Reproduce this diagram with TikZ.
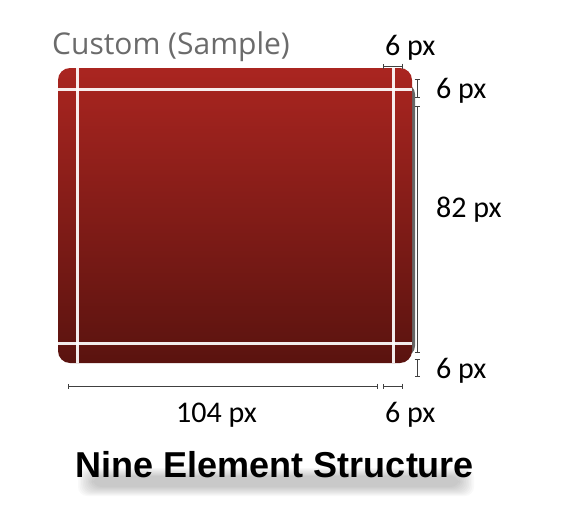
\documentclass[tikz,border=0pt]{standalone}
\usepackage{fontspec}
\setmainfont{Liberation Sans}
\newfontfamily\dimfont{Carlito}
\newfontfamily\capfont{Open Sans}
\usetikzlibrary{arrows.meta}
\definecolor{redtop}{HTML}{AA2520}
\definecolor{redbot}{HTML}{5A130F}
\definecolor{capgrey}{HTML}{6B6B6B}
\begin{document}
\begin{tikzpicture}[x=1pt,y=-1pt,
  dimline/.style={draw=black!75, line width=0.8pt, {Bar[width=5pt]}-{Bar[width=5pt]}},
  dimlabel/.style={font=\dimfont\fontsize{30}{30}\selectfont, text=black, inner sep=0pt, anchor=base west},
  seam/.style={draw=white, line width=3pt, opacity=0.92},
  titlefont/.style={font=\bfseries\fontsize{36}{36}\selectfont, inner sep=0pt, anchor=base}]
\useasboundingbox (0,0) rectangle (579,514);
% panel shadow (right side only)
\fill[black, opacity=0.6, rounded corners=10pt] (61,84) rectangle (415,356);
% panel
\shade[top color=redtop, bottom color=redbot, rounded corners=12pt] (58,68) rectangle (412,363);
% seams
\draw[seam] (58,89) -- (412,89);
\draw[seam] (58,343) -- (412,343);
\draw[seam] (77.5,68) -- (77.5,363);
\draw[seam] (393,68) -- (393,363);
% caption
\node[font=\capfont\fontsize{30}{30}\selectfont, text=capgrey, inner sep=0pt, anchor=base west] (cap) at (52,54) {Custom (Sample)};
% dimension lines
\coordinate (t1) at (383,66); \coordinate (t2) at (403,66);
\coordinate (r1) at (417,79); \coordinate (r2) at (417,98);
\coordinate (r3) at (417,106); \coordinate (r4) at (417,353);
\coordinate (r5) at (417,359); \coordinate (r6) at (417,377);
\coordinate (b1) at (68,386); \coordinate (b2) at (378,386);
\coordinate (b3) at (383,386); \coordinate (b4) at (403,386);
\draw[dimline] (t1) -- (t2);
\draw[dimline] (r1) -- (r2);
\draw[dimline] (r3) -- (r4);
\draw[dimline] (r5) -- (r6);
\draw[dimline] (b1) -- (b2);
\draw[dimline] (b3) -- (b4);
% dimension labels
\node[dimlabel] (lt) at (385,56) {6 px};
\node[dimlabel] (lr1) at (436,98) {6 px};
\node[dimlabel] (lr2) at (436,217) {82 px};
\node[dimlabel] (lr3) at (436,378) {6 px};
\node[dimlabel] (lb1) at (176,422) {104 px};
\node[dimlabel] (lb2) at (385,422) {6 px};
% title soft shadow (blurred band)
\foreach \i in {0,...,9} {
  \fill[black, opacity=0.025, rounded corners=9pt]
    (78+\i*1.6,468+\i*0.9) rectangle (474-\i*1.6,496-\i*1.0);
}
\node[titlefont, text=black] (title) at (275,477) {Nine Element Structure};
\end{tikzpicture}
\end{document}
